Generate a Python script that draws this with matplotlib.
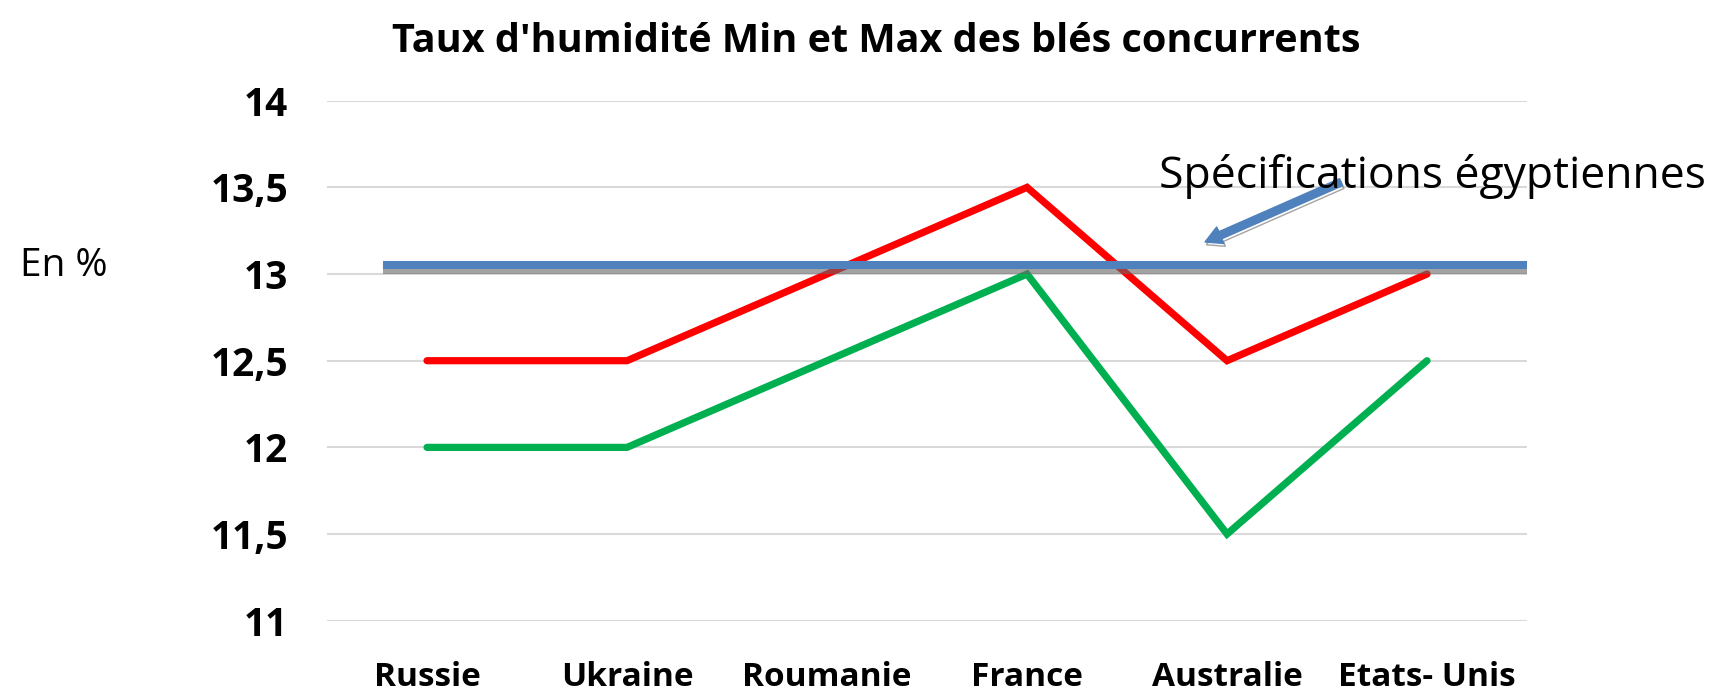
import matplotlib
matplotlib.use("Agg")
import matplotlib.pyplot as plt
import matplotlib.patheffects as pe
import numpy as np

plt.rcParams['font.family'] = ['Open Sans', 'DejaVu Sans']

pays = ['Russie', 'Ukraine', 'Roumanie', 'France', 'Australie', 'Etats- Unis']
humidite_max = [12.5, 12.5, 13.0, 13.5, 12.5, 13.0]
humidite_min = [12.0, 12.0, 12.5, 13.0, 11.5, 12.5]
spec_egypte = 13.05
yticks = [11, 11.5, 12, 12.5, 13, 13.5, 14]
ytick_labels = ['11', '11,5', '12', '12,5', '13', '13,5', '14']

fig = plt.figure(figsize=(17.15, 6.93), dpi=100)
ax = fig.add_axes([0.1907, 0.1043, 0.6997, 0.7504])

x = np.arange(len(pays))
ax.plot(x, humidite_max, color='#FF0000', lw=5.2, solid_capstyle='round', solid_joinstyle='miter', zorder=3)
ax.plot(x, humidite_min, color='#00B050', lw=5.2, solid_capstyle='round', solid_joinstyle='miter', zorder=3)

# ligne des specifications egyptiennes (avec ombre)
ax.axhline(spec_egypte, xmin=0.05, xmax=0.997, color='#4F81BD', lw=5.8, zorder=4,
           path_effects=[pe.SimpleLineShadow(offset=(0, -3), shadow_color='#666666', alpha=0.6),
                         pe.Normal()])

ax.annotate('', xy=(3.89, 13.185), xytext=(4.57, 13.53),
            arrowprops=dict(arrowstyle='simple,head_width=1.3,head_length=1.2,tail_width=0.55',
                            color='#4F81BD', shrinkA=0, shrinkB=0,
                            path_effects=[pe.SimpleLineShadow(offset=(1, -2), shadow_color='#666666', alpha=0.6),
                                          pe.Normal()]),
            zorder=5)

ax.set_xlim(-0.5, len(pays) - 0.5)
ax.set_ylim(11, 14)
ax.set_yticks(yticks)
ax.set_yticklabels(ytick_labels, fontsize=28, fontweight='bold')
ax.set_xticks(x)
ax.set_xticklabels(pays, fontsize=24, fontweight='bold')
ax.tick_params(length=0)
ax.tick_params(axis='y', pad=28)
ax.tick_params(axis='x', pad=29)
ax.grid(axis='y', color='#D9D9D9', lw=1.5)
ax.set_axisbelow(True)
for s in ax.spines.values():
    s.set_visible(False)

fig.text(0.511, 0.94, "Taux d'humidité Min et Max des blés concurrents",
         ha='center', va='center', fontsize=28.5, fontweight='bold')
fig.text(0.0117, 0.616, 'En %', ha='left', va='center', fontsize=28)
fig.text(0.676, 0.745, 'Spécifications égyptiennes', ha='left', va='center', fontsize=32)

fig.savefig('out.png', dpi=100)
